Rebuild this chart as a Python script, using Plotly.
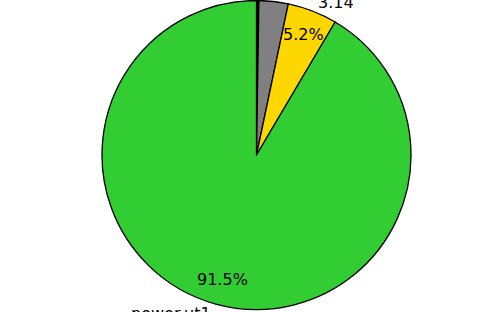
import math
import plotly.graph_objects as go

# Data
slice_names = ["slice_a", "slice_b", "3.14", "power.ut1"]
label_text = ["", "", "3.14", "power.ut1"]
values = [0.25, 3.05, 5.2, 91.5]
colors = ["#000000", "#808080", "#FFD700", "#32CD32"]

W, H = 500, 312
cx_px, cy_px, r_px = 256.5, 155.0, 154.5
label_dist = 1.062
pct_dist = 0.835
pct_min = 4.0

dom_x = [(cx_px - r_px) / W, (cx_px + r_px) / W]
dom_y = [(H - cy_px - r_px) / H, (H - cy_px + r_px) / H]

fig = go.Figure(go.Pie(
    labels=slice_names,
    values=values,
    sort=False,
    direction="clockwise",
    rotation=0,
    marker=dict(colors=colors, line=dict(color="black", width=1.3)),
    textinfo="none",
    hoverinfo="label+percent",
    domain=dict(x=dom_x, y=dom_y),
    showlegend=False,
))

total = sum(values)
annotations = []
cum = 0.0
for name, v in zip(label_text, values):
    frac_mid = (cum + v / 2) / total
    cum += v
    ang = 2 * math.pi * frac_mid  # clockwise from 12 o'clock
    sx, sy = math.sin(ang), math.cos(ang)
    # outside label
    if name:
        lx = cx_px + label_dist * r_px * sx
        ly = cy_px - label_dist * r_px * sy
        annotations.append(dict(
            x=lx / W, y=1 - ly / H, xref="paper", yref="paper",
            text=name, showarrow=False,
            xanchor="left" if sx >= 0 else "right", yanchor="middle",
            font=dict(family="DejaVu Sans", size=16, color="black"),
        ))
    pct = 100 * v / total
    if pct >= pct_min:
        px_ = cx_px + pct_dist * r_px * sx
        py_ = cy_px - pct_dist * r_px * sy
        annotations.append(dict(
            x=px_ / W, y=1 - py_ / H, xref="paper", yref="paper",
            text=f"{pct:.1f}%", showarrow=False,
            xanchor="center", yanchor="middle",
            font=dict(family="DejaVu Sans", size=16, color="black"),
        ))

fig.update_layout(
    width=W, height=H,
    margin=dict(l=0, r=0, t=0, b=0),
    paper_bgcolor="white",
    plot_bgcolor="white",
    annotations=annotations,
)

fig.write_html("out.html")
